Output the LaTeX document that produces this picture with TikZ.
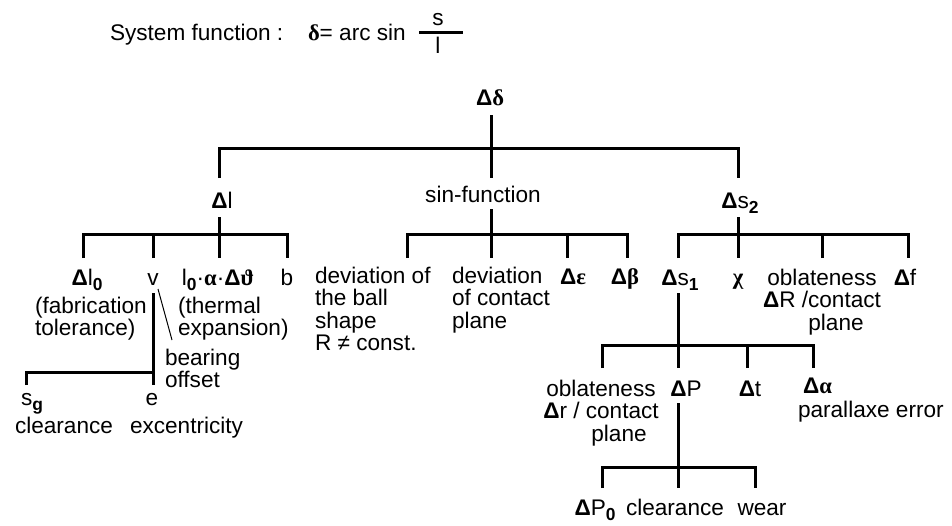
\documentclass[tikz,border=0pt]{standalone}
\usepackage{fontspec}
\setmainfont{Liberation Sans}
\newfontfamily\grkfont{Liberation Serif}
% bold sans Delta, bold serif small Greek, bold lowered index
\newcommand{\D}{\textbf{Δ}}
\newcommand{\gk}[1]{{\grkfont\bfseries #1}}
\newcommand{\lsub}[1]{\raisebox{-2.5pt}{\fontsize{8.7}{8.7}\selectfont\bfseries #1}}
% stacked lines whose baseline is the first line's baseline
\newcommand{\mlines}[2]{\begin{tabular}[t]{@{}#1@{}}#2\end{tabular}}

\begin{document}
\begin{tikzpicture}[x=0.5pt,y=-0.5pt,
  every node/.style={inner sep=0pt, outer sep=0pt, font=\fontsize{11.3}{10.75}\selectfont},
  lbl/.style={anchor=base},
  lblw/.style={anchor=base west},
  tree/.style={line width=1.5pt, line join=miter, line cap=butt},
  pointer/.style={line width=0.5pt}]
\useasboundingbox (0,0) rectangle (952,525);

% ---- system function ----
\node[lblw] (title) at (110,40) {System function\hspace{3pt}:};
\node[lblw] (formula) at (308,40) {\gk{δ}= arc sin};
\node[lbl] (fs) at (438,25) {s};
\node[lbl] (fl) at (438,53) {l};
\coordinate (frac-l) at (419,32);
\coordinate (frac-r) at (463,32);
\draw[tree] (frac-l) -- (frac-r);

% ---- labels ----
\node[lbl] (dd) at (490,105) {\D\gk{δ}};

\node[lbl] (dl) at (222,208) {\D l};
\node[lbl] (sinf) at (483,202) {sin-function};
\node[lbl] (ds2) at (740,208) {\D s\lsub{2}};

\node[lbl] (dl0) at (87,285) {\D l\lsub{0}};
\node[lblw] (fab) at (35,313) {\mlines{l}{(fabrication\\tolerance)}};
\node[lbl] (v) at (153,285) {v};
\node[lbl] (lad) at (218,285) {l\lsub{0}·\gk{α}·\D\gk{ϑ}};
\node[lblw] (therm) at (178,313) {\mlines{l}{(thermal\\expansion)}};
\node[lbl] (b) at (287,285) {b};

\node[lblw] (dev1) at (315,283) {\mlines{l}{deviation of\\the ball\\shape\\R ≠ const.}};
\node[lblw] (dev2) at (452,283) {\mlines{l}{deviation\\of contact\\plane}};
\node[lbl] (de) at (573,284) {\D\gk{ε}};
\node[lbl] (db) at (625,284) {\D\gk{β}};

\node[lbl] (ds1) at (680,285) {\D s\lsub{1}};
\node[lbl] (chi) at (738,284) {\gk{χ}};
\node[lbl] (obl1) at (822,285) {\mlines{c}{oblateness\\\D R /contact\\\hspace*{14pt}plane}};
\node[lbl] (df) at (905,285) {\D f};

\node[lblw] (bear) at (165,365) {\mlines{l}{bearing\\offset}};
\node[lbl] (sg) at (32,405) {s\lsub{g}};
\node[lblw] (sgt) at (15,433) {clearance};
\node[lbl] (e) at (152,405) {e};
\node[lblw] (et) at (130,433) {excentricity};

\node[lbl] (obl2) at (601,396) {\mlines{c}{oblateness\\\D r / contact\\\hspace*{18pt}plane}};
\node[lbl] (dP) at (686,396) {\D P};
\node[lbl] (dt) at (750,396) {\D t};
\node[lblw] (dal) at (803,393) {\D\gk{α}};
\node[lblw] (par) at (798,417) {parallaxe error};

\node[lbl] (dP0) at (595,515) {\D P\lsub{0}};
\node[lbl] (clr) at (675,515) {clearance};
\node[lbl] (wear) at (762,515) {wear};

% ---- tree lines ----
% top level
\coordinate (bar0) at (0,148);
\coordinate (dd-s) at (491,115);
\coordinate (dl-n) at (219,178);
\coordinate (sinf-n) at (491,178);
\coordinate (ds2-n) at (738,178);
\draw[tree] (dd-s) -- (sinf-n);
\draw[tree] (dl-n) -- (dl-n |- bar0) -- (ds2-n |- bar0) -- (ds2-n);

% second level
\coordinate (bar1) at (0,234);
\coordinate (dl-s) at (219,217);
\coordinate (dl0-n) at (83,258);
\coordinate (v-n) at (153,258);
\coordinate (lad-n) at (219,258);
\coordinate (b-n) at (287,258);
\draw[tree] (dl-s) -- (lad-n);
\draw[tree] (dl0-n) -- (dl0-n |- bar1) -- (b-n |- bar1) -- (b-n);
\draw[tree] (v-n) -- (v-n |- bar1);

\coordinate (sinf-s) at (491,209);
\coordinate (dev1-n) at (407,258);
\coordinate (dev2-n) at (491,258);
\coordinate (de-n) at (567,258);
\coordinate (db-n) at (627,258);
\draw[tree] (sinf-s) -- (dev2-n);
\draw[tree] (dev1-n) -- (dev1-n |- bar1) -- (db-n |- bar1) -- (db-n);
\draw[tree] (de-n) -- (de-n |- bar1);

\coordinate (ds2-s) at (738,217);
\coordinate (ds1-n) at (678,258);
\coordinate (chi-n) at (738,258);
\coordinate (obl1-n) at (822,258);
\coordinate (df-n) at (908,258);
\draw[tree] (ds2-s) -- (chi-n);
\draw[tree] (ds1-n) -- (ds1-n |- bar1) -- (df-n |- bar1) -- (df-n);
\draw[tree] (obl1-n) -- (obl1-n |- bar1);

% bearing offset branch
\coordinate (barv) at (0,372);
\coordinate (v-s) at (153,293);
\coordinate (e-n) at (153,385);
\coordinate (sg-n) at (26,385);
\draw[tree] (v-s) -- (e-n);
\draw[tree] (sg-n) -- (sg-n |- barv) -- (e-n |- barv);
\coordinate (v-p) at (158,289);
\coordinate (bear-p) at (172,340);
\draw[pointer] (v-p) -- (bear-p);

% third level
\coordinate (bar3) at (0,345);
\coordinate (ds1-s) at (678,293);
\coordinate (obl2-n) at (602,368);
\coordinate (dP-n) at (678,368);
\coordinate (dt-n) at (747,368);
\coordinate (dal-n) at (813,368);
\draw[tree] (ds1-s) -- (dP-n);
\draw[tree] (obl2-n) -- (obl2-n |- bar3) -- (dal-n |- bar3) -- (dal-n);
\draw[tree] (dt-n) -- (dt-n |- bar3);

% fourth level
\coordinate (bar4) at (0,467);
\coordinate (dP-s) at (678,403);
\coordinate (dP0-n) at (602,488);
\coordinate (clr-n) at (678,488);
\coordinate (wear-n) at (755,488);
\draw[tree] (dP-s) -- (clr-n);
\draw[tree] (dP0-n) -- (dP0-n |- bar4) -- (wear-n |- bar4) -- (wear-n);
\end{tikzpicture}
\end{document}
